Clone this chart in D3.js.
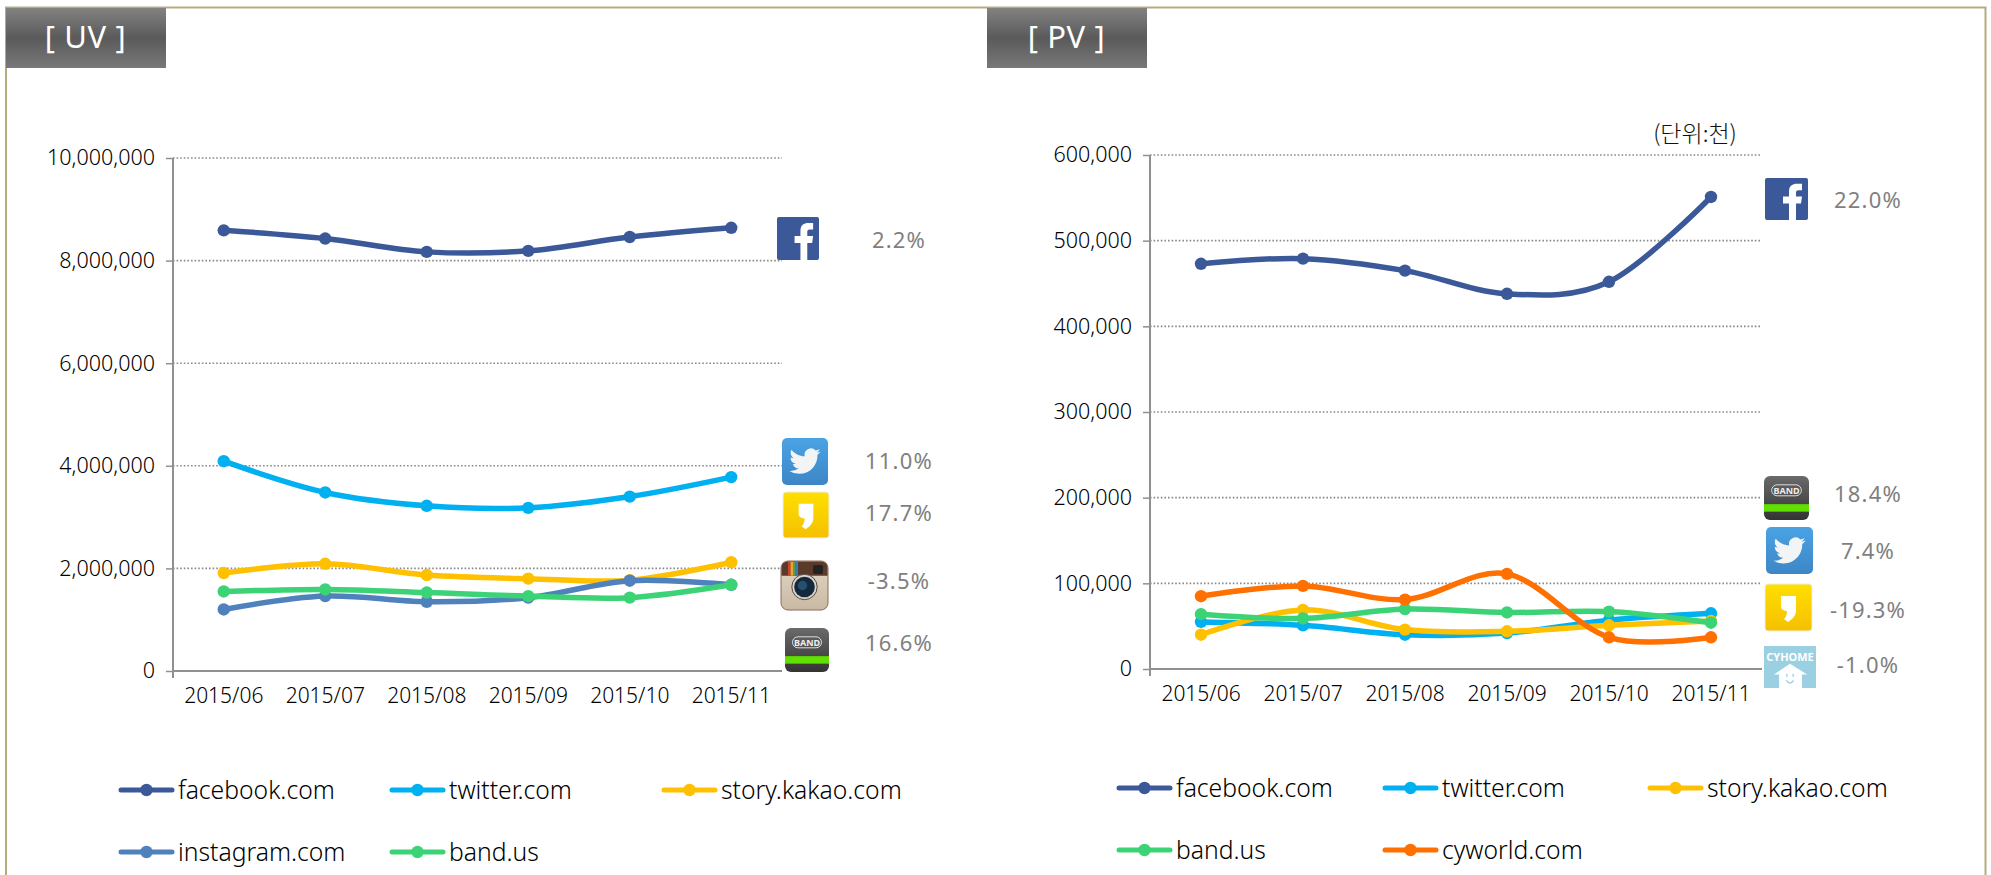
<!DOCTYPE html>
<html><head><meta charset="utf-8">
<script src="https://cdn.jsdelivr.net/npm/d3@7/dist/d3.min.js"></script>
<style>html,body{margin:0;padding:0;background:#fff;overflow:hidden}svg{display:block}text{font-family:"Noto Sans",sans-serif;font-weight:300}</style>
</head><body><svg id="c" width="1991" height="875"></svg>
<script>
const months = ["2015/06","2015/07","2015/08","2015/09","2015/10","2015/11"];
const uvTicks = [0,2000000,4000000,6000000,8000000,10000000];
const pvTicks = [0,100000,200000,300000,400000,500000,600000];
const uvFacebook  = [8590000,8430000,8170000,8190000,8460000,8640000];
const uvTwitter   = [4090000,3480000,3220000,3180000,3400000,3780000];
const uvKakao     = [1910000,2090000,1870000,1800000,1770000,2120000];
const uvInstagram = [1200000,1460000,1350000,1430000,1760000,1680000];
const uvBand      = [1550000,1590000,1530000,1460000,1430000,1680000];
const pvFacebook  = [473000,479000,465000,438000,452000,551000];
const pvTwitter   = [55000,51000,40000,42000,57000,65000];
const pvKakao     = [40000,69000,46000,44000,51000,56000];
const pvBand      = [64000,59000,70000,66000,67000,54000];
const pvCyworld   = [85000,97000,81000,111000,37000,37000];
const uvNames = ["facebook.com","twitter.com","story.kakao.com","instagram.com","band.us"];
const pvNames = ["facebook.com","twitter.com","story.kakao.com","band.us","cyworld.com"];
const uvGrowth = ["2.2%","11.0%","17.7%","-3.5%","16.6%"];
const pvGrowth = ["22.0%","18.4%","7.4%","-19.3%","-1.0%"];

const colors = {"facebook.com":"#3b5998","twitter.com":"#00b0f0","story.kakao.com":"#ffc000","instagram.com":"#4f81bd","band.us":"#3bd376","cyworld.com":"#ff7000"};
const svg = d3.select("#c");
const defs = svg.append("defs");
function grad(id,stops){const g=defs.append("linearGradient").attr("id",id).attr("x1",0).attr("x2",0).attr("y1",0).attr("y2",1);
  stops.forEach(s=>g.append("stop").attr("offset",s[0]).attr("stop-color",s[1]));}
grad("tab",[[0,"#828282"],[.5,"#5a5a5a"],[1,"#787878"]]);
grad("tw",[[0,"#4aa3e4"],[1,"#3d86c6"]]);
grad("ka",[[0,"#ffdf00"],[1,"#f5c000"]]);
grad("ba",[[0,"#6a6a6a"],[1,"#333"]]);
grad("ig",[[0,"#e2d7c6"],[1,"#c9b9a3"]]);

// frame
svg.append("path").attr("d","M6,875V7.5H1985.5V875").attr("fill","none").attr("stroke","#b5ab7f").attr("stroke-width",2);
function tab(x,label){
  svg.append("rect").attr("x",x).attr("y",8).attr("width",160).attr("height",60).attr("fill","url(#tab)");
  svg.append("text").attr("x",x+79.5).attr("y",48).attr("text-anchor","middle").attr("fill","#fff").attr("font-size",31).attr("letter-spacing",.6).style("font-weight",400).text(label);
}
tab(6,"[ UV ]"); tab(987,"[ PV ]");

function chart(o){
  const x=d3.scaleBand().domain(months).range([o.left,o.right]);
  const y=d3.scaleLinear().domain(o.domain).range([o.bottom,o.top]);
  const g=svg.append("g");
  // grid
  g.append("g").selectAll("line").data(o.ticks.filter(d=>d>0)).join("line")
    .attr("x1",o.left).attr("x2",o.right).attr("y1",d=>y(d)).attr("y2",d=>y(d))
    .attr("stroke","#8a8a8a").attr("stroke-width",1.6).attr("stroke-dasharray","1.6 2");
  const ya=g.append("g").attr("transform",`translate(${o.left},0)`)
    .call(d3.axisLeft(y).tickValues(o.ticks).tickFormat(d3.format(",")).tickSize(7).tickPadding(11));
  ya.select(".domain").attr("stroke","#909090").attr("stroke-width",2).attr("d",`M0,${o.top}V${o.bottom+7}`);
  ya.selectAll(".tick line").attr("stroke","#909090").attr("stroke-width",1.5);
  ya.selectAll("text").attr("font-size",21.5).attr("font-family",'"Noto Sans",sans-serif').attr("fill","#000");
  const xa=g.append("g").attr("transform",`translate(0,${o.bottom})`)
    .call(d3.axisBottom(x).tickSize(0).tickPadding(17));
  xa.select(".domain").attr("stroke","#909090").attr("stroke-width",2).attr("d",`M${o.left},0H${o.right}`);
  xa.selectAll("text").attr("font-size",21).attr("font-family",'"Noto Sans",sans-serif').attr("fill","#000");
  const line=d3.line().x((d,i)=>x(months[i])+x.bandwidth()/2).y(d=>y(d)).curve(d3.curveCatmullRom.alpha(0));
  o.series.forEach(s=>{
    const c=colors[s.name];
    const sg=g.append("g");
    sg.append("path").attr("d",line(s.values)).attr("fill","none").attr("stroke",c).attr("stroke-width",5.5).attr("stroke-linecap","round");
    sg.selectAll("circle").data(s.values).join("circle").attr("cx",(d,i)=>x(months[i])+x.bandwidth()/2).attr("cy",d=>y(d)).attr("r",6.2).attr("fill",c);
  });
  // legend
  o.legend.forEach((p,i)=>{
    const n=o.series[i].name,c=colors[n],lg=svg.append("g").attr("transform",`translate(${p[0]},${p[1]})`);
    lg.append("line").attr("x1",2).attr("x2",53).attr("stroke",c).attr("stroke-width",5).attr("stroke-linecap","round");
    lg.append("circle").attr("cx",27.5).attr("r",6.2).attr("fill",c);
    lg.append("text").attr("x",59).attr("dy",".35em").attr("font-size",24.7).attr("fill","#000").text(n);
  });
}
chart({left:173,right:782,top:158,bottom:671,domain:[0,10000000],ticks:uvTicks,
  series:[uvFacebook,uvTwitter,uvKakao,uvInstagram,uvBand].map((v,i)=>({name:uvNames[i],values:v})),
  legend:[[119,790],[390,790],[662,790],[119,852],[390,852]]});
chart({left:1150,right:1762,top:155,bottom:669,domain:[0,600000],ticks:pvTicks,
  series:[pvFacebook,pvTwitter,pvKakao,pvBand,pvCyworld].map((v,i)=>({name:pvNames[i],values:v})),
  legend:[[1117,788],[1383,788],[1648,788],[1117,850],[1383,850]]});

svg.append("text").attr("x",1695).attr("y",142).attr("text-anchor","middle").attr("font-size",23).attr("fill","#111")
  .style("font-family",'"Noto Sans CJK KR",sans-serif').text("(단위:천)");

// icons
function rr(g,w,h,r,f){return g.append("rect").attr("width",w).attr("height",h).attr("rx",r).attr("fill",f);}
const icons={
 fb(g,w,h){rr(g,w,h,2,"#3b5998");
   g.append("path").attr("transform",`scale(${w/43},${h/43})`).attr("fill","#fff")
    .attr("d","M24,43V26H18V19H24V14C24,8 27.5,6 32,6H37V12.5H33.5C31.5,12.5 31,13.5 31,15V19H37L36,26H31V43Z");},
 tw(g,w,h){g.append("rect").attr("width",w).attr("height",h).attr("rx",5).attr("fill","url(#tw)");
   g.append("path").attr("fill","#f2f4f5").attr("transform",`translate(${w*.16},${h*.16}) scale(${w*.68/24})`)
    .attr("d","M23.953 4.57a10 10 0 01-2.825.775 4.958 4.958 0 002.163-2.723c-.951.555-2.005.959-3.127 1.184a4.92 4.92 0 00-8.384 4.482C7.69 8.095 4.067 6.13 1.64 3.162a4.822 4.822 0 00-.666 2.475c0 1.71.87 3.213 2.188 4.096a4.904 4.904 0 01-2.228-.616v.06a4.923 4.923 0 003.946 4.827 4.996 4.996 0 01-2.212.085 4.936 4.936 0 004.604 3.417 9.867 9.867 0 01-6.102 2.105c-.39 0-.779-.023-1.17-.067a13.995 13.995 0 007.557 2.209c9.053 0 13.998-7.496 13.998-13.985 0-.21 0-.42-.015-.63A9.935 9.935 0 0024 4.59z");},
 ka(g,w,h){g.append("rect").attr("width",w).attr("height",h).attr("rx",3).attr("fill","url(#ka)").attr("stroke","#eee");
   g.append("path").attr("fill","#fff").attr("transform",`scale(${w/47},${h/47})`)
    .attr("d","M16,12H31V27C31,31 28,35 23,38L19,35C21,33 22,31 22,27C19,27 16,25 16,23Z");},
 ig(g,w,h){g.append("rect").attr("width",w).attr("height",h).attr("rx",7).attr("fill","url(#ig)").attr("stroke","#8a6d5a");
   g.append("path").attr("fill","#5b3a29").attr("d",`M0.5,${h*.3}V7Q0.5,0.5 7,0.5H${w-7}Q${w-.5},0.5 ${w-.5},7V${h*.3}Z`);
   [["#d0402f",7],["#e8a42c",9.5],["#5aa04a",12],["#3a7cc0",14.5]].forEach(s=>g.append("rect").attr("x",s[1]).attr("y",1).attr("width",2.5).attr("height",h*.28).attr("fill",s[0]));
   g.append("rect").attr("x",w-15).attr("y",4).attr("width",10).attr("height",9).attr("rx",2).attr("fill","#222");
   g.append("circle").attr("cx",w/2).attr("cy",h*.53).attr("r",w*.27).attr("fill","#d8d4cc").attr("stroke","#5b4a3c");
   g.append("circle").attr("cx",w/2).attr("cy",h*.53).attr("r",w*.22).attr("fill","#14293d");
   g.append("circle").attr("cx",w/2-2).attr("cy",h*.5).attr("r",w*.1).attr("fill","#25506e");},
 ba(g,w,h){g.append("rect").attr("width",w).attr("height",h).attr("rx",6).attr("fill","url(#ba)");
   g.append("rect").attr("y",h*.64).attr("width",w).attr("height",h*.17).attr("fill","#5fe000");
   g.append("rect").attr("x",w*.17).attr("y",h*.2).attr("width",w*.66).attr("height",h*.25).attr("rx",h*.125).attr("fill","none").attr("stroke","#ddd").attr("stroke-width",1);
   g.append("text").attr("x",w/2).attr("y",h*.4).attr("text-anchor","middle").attr("font-size",9).style("font-weight",700).attr("fill","#eee").text("BAND");},
 cy(g,w,h){g.append("rect").attr("width",w).attr("height",h).attr("fill","#9ad0e2");
   g.append("text").attr("x",w/2).attr("y",15).attr("text-anchor","middle").attr("font-size",11).style("font-weight",700).attr("fill","#fff").text("CYHOME");
   g.append("path").attr("fill","#fff").attr("d",`M${w*.19},${h*.68}L${w/2},${h*.42}L${w*.83},${h*.68}H${w*.73}V${h}H${w*.29}V${h*.68}Z`);
   g.append("path").attr("fill","none").attr("stroke","#9ad0e2").attr("stroke-width",1.3).attr("d",`M${w*.43},${h*.82}Q${w/2},${h*.95} ${w*.57},${h*.82}`);
   g.append("path").attr("stroke","#9ad0e2").attr("stroke-width",1.3).attr("d",`M${w*.44},${h*.66}v3M${w*.56},${h*.66}v3`);}
};
const uvIcons=[["fb",777,217,42,43],["tw",782,438,46,47],["ka",783,492,46,46],["ig",781,561,47,49],["ba",785,628,44,44]];
const uvLabelPos=[[899,240],[899,461],[899,513],[899,581],[899,643]];
const pvIcons=[["fb",1765,178,43,42],["ba",1764,476,45,44],["tw",1766,527,47,47],["ka",1765,584,47,47],["cy",1764,646,52,42]];
const pvLabelPos=[[1868,200],[1868,494],[1868,551],[1868,610],[1868,665]];
function side(list,pos,labels){
  list.forEach((a,i)=>{const g=svg.append("g").attr("transform",`translate(${a[1]},${a[2]})`);icons[a[0]](g,a[3],a[4]);
    svg.append("text").attr("x",pos[i][0]).attr("y",pos[i][1]).attr("dy",".35em").attr("text-anchor","middle").attr("font-size",22).attr("letter-spacing",1.2).attr("fill","#7f7f7f").style("font-weight",400).text(labels[i]);});
}
side(uvIcons,uvLabelPos,uvGrowth);
side(pvIcons,pvLabelPos,pvGrowth);
</script></body></html>
